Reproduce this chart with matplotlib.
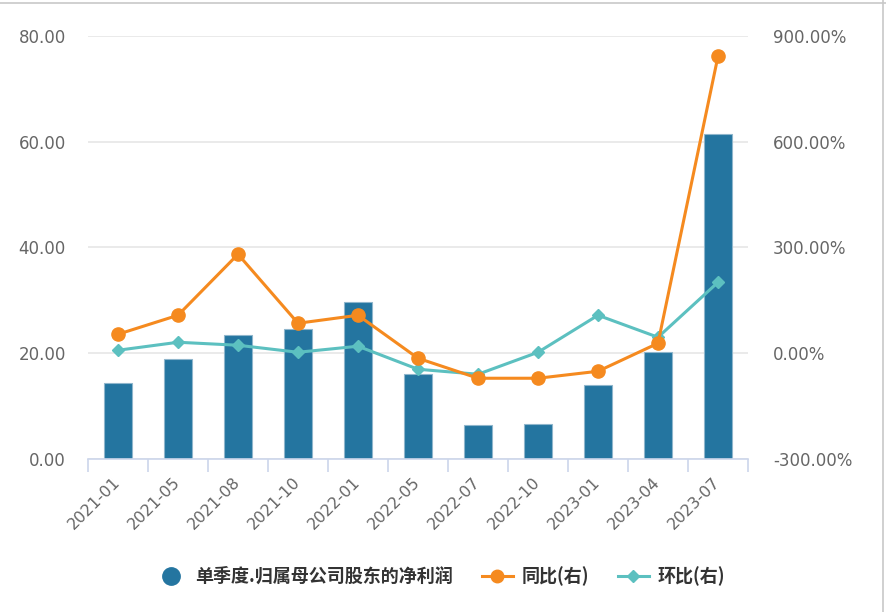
import matplotlib
matplotlib.use('Agg')
import matplotlib.pyplot as plt
from matplotlib.lines import Line2D
import numpy as np

## Data ##
quarters = ['2021-01', '2021-05', '2021-08', '2021-10', '2022-01', '2022-05',
            '2022-07', '2022-10', '2023-01', '2023-04', '2023-07']
net_profit = [14.4, 18.9, 23.5, 24.6, 29.7, 16.1, 6.4, 6.6, 14.0, 20.2, 61.5]
yoy = [53.9, 107.8, 280.9, 85.1, 107.8, -14.2, -70.9, -70.9, -51.1, 28.4, 842.6]
qoq = [8.5, 31.2, 22.7, 2.8, 19.9, -45.4, -59.6, 2.8, 107.8, 45.4, 201.4]

left_ticks = [0, 20, 40, 60, 80]
right_ticks = [-300, 0, 300, 600, 900]

bar_color = '#2475a0'
orange = '#f58a1f'
teal = '#5cc0c0'
label_gray = '#666666'

plt.rcParams['font.family'] = ['DejaVu Sans', 'Noto Sans CJK SC']

## Figure ##
fig = plt.figure(figsize=(8.86, 6.12), dpi=100)
ax = fig.add_axes([88/886, 1-459/612, 660/886, 423/612])
ax2 = ax.twinx()

x = np.arange(len(quarters))

# bars
ax.bar(x, net_profit, width=0.48, color=bar_color, edgecolor='#8fb6cc',
       linewidth=0.8, zorder=2)
ax.set_xlim(-0.5, len(quarters) - 0.5)
ax.set_ylim(0, 80)
ax.set_yticks(left_ticks)
ax.set_yticklabels(['%.2f' % v for v in left_ticks])
ax.grid(axis='y', color='#e6e6e6', linewidth=1.2, zorder=0)
ax.set_axisbelow(True)

# x axis ticks between categories
ax.set_xticks(x)
ax.set_xticklabels(quarters, rotation=45, ha='right', va='center',
                   rotation_mode='anchor', color=label_gray, fontsize=11.5)
ax.set_xticks(np.arange(-0.5, len(quarters)), minor=True)
ax.tick_params(axis='x', which='major', length=0, pad=15)
ax.tick_params(axis='x', which='minor', length=9, color='#ccd6eb', width=1.2)
ax.tick_params(axis='y', length=0, pad=16, labelcolor=label_gray, labelsize=12)

for side in ['top', 'right', 'left']:
    ax.spines[side].set_visible(False)
    ax2.spines[side].set_visible(False)
ax.spines['bottom'].set_color('#ccd6eb')
ax.spines['bottom'].set_linewidth(1.2)
ax2.spines['bottom'].set_visible(False)

# lines on right axis
ax2.plot(x, yoy, color=orange, linewidth=2.2, marker='o', markersize=9.5,
         zorder=4)
ax2.plot(x, qoq, color=teal, linewidth=2.2, marker='D', markersize=6.5,
         zorder=3)
ax2.set_ylim(-300, 900)
ax2.set_yticks(right_ticks)
ax2.set_yticklabels(['%.2f%%' % v for v in right_ticks])
ax2.tick_params(axis='y', length=0, pad=18, labelcolor=label_gray, labelsize=12)

# outer border (top and right)
fig.add_artist(Line2D([0, 1], [1 - 3/612, 1 - 3/612], color='#c8c8c8',
                      linewidth=1.2, transform=fig.transFigure))
fig.add_artist(Line2D([1 - 3/886, 1 - 3/886], [0, 1], color='#c8c8c8',
                      linewidth=1.2, transform=fig.transFigure))

## Legend ##
handles = [
    Line2D([], [], linestyle='none', marker='o', markersize=12.5, color=bar_color),
    Line2D([], [], color=orange, linewidth=2.2, marker='o', markersize=9),
    Line2D([], [], color=teal, linewidth=2.2, marker='D', markersize=6.5),
]
labels = ['单季度.归属母公司股东的净利润', '同比(右)', '环比(右)']
leg = fig.legend(handles, labels, loc='center', bbox_to_anchor=(0.497, 1 - 576/612),
                 ncol=3, frameon=False, handlelength=1.7, handletextpad=0.5,
                 columnspacing=1.6,
                 prop={'family': ['Noto Sans CJK SC'], 'weight': 'bold', 'size': 13})
for t in leg.get_texts():
    t.set_color('#333333')

fig.savefig('out.png', dpi=100)
